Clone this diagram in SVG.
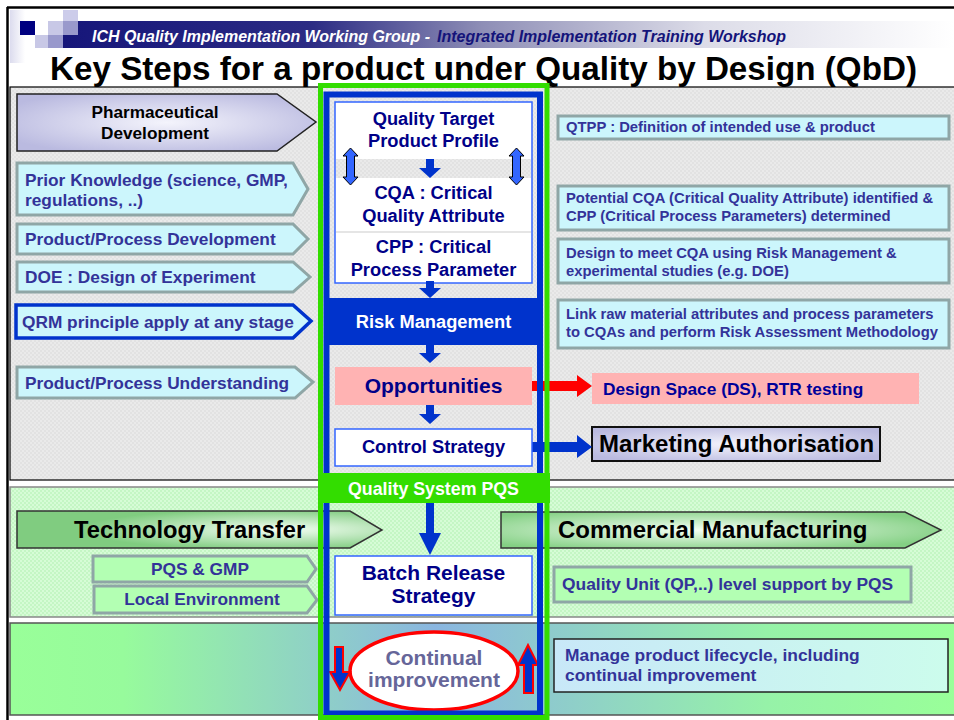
<svg xmlns="http://www.w3.org/2000/svg" width="954" height="720" viewBox="0 0 954 720">
<style>
.b{font-family:"Liberation Sans",Arial,Helvetica,sans-serif;font-weight:bold}
.lt{fill:#333399;font-size:17.3px}
.rt{fill:#333399;font-size:14.8px}
.ct{fill:#000088;font-size:18.3px;text-anchor:middle}
.cy{fill:#ccf6fc;stroke:#8fa6a6;stroke-width:3}
.gr{fill:#b3ffb3;stroke:#8fa6a6;stroke-width:3}
.wb{fill:#ffffff;stroke:#3366ff;stroke-width:1.5}
.dn{fill:#0033cc}
.blk{fill:#000000}
</style>
<defs>
<linearGradient id="hdr" x1="0" y1="0" x2="1" y2="0">
<stop offset="0" stop-color="#16167a"/>
<stop offset="0.28" stop-color="#2c2c84"/>
<stop offset="0.47" stop-color="#8e8eb6"/>
<stop offset="0.72" stop-color="#dcdce8"/>
<stop offset="1" stop-color="#ffffff"/>
</linearGradient>
<linearGradient id="strip" x1="0" y1="0" x2="1" y2="0">
<stop offset="0" stop-color="#dcdcee"/>
<stop offset="1" stop-color="#ffffff"/>
</linearGradient>
<pattern id="grayTex" width="4" height="4" patternUnits="userSpaceOnUse">
<rect width="4" height="4" fill="#e2e2e2"/>
<rect width="2" height="2" fill="#eaeaea"/>
<rect x="2" y="2" width="2" height="2" fill="#eaeaea"/>
</pattern>
<pattern id="greenTex" width="4" height="4" patternUnits="userSpaceOnUse">
<rect width="4" height="4" fill="#c4f6c4"/>
<rect width="2" height="2" fill="#d6fcd6"/>
<rect x="2" y="2" width="2" height="2" fill="#d6fcd6"/>
</pattern>
<linearGradient id="bottomG" x1="0" y1="0" x2="1" y2="0">
<stop offset="0" stop-color="#99ff99"/>
<stop offset="0.12" stop-color="#97fb9c"/>
<stop offset="0.45" stop-color="#8ab6e0"/>
<stop offset="0.8" stop-color="#96f2a8"/>
<stop offset="1" stop-color="#99ff99"/>
</linearGradient>
<radialGradient id="lav" cx="0.5" cy="0.5" r="0.6">
<stop offset="0" stop-color="#f4f4fc"/>
<stop offset="1" stop-color="#babae0"/>
</radialGradient>
<radialGradient id="grn" cx="0.72" cy="0.5" r="0.55">
<stop offset="0" stop-color="#f4fff4"/>
<stop offset="1" stop-color="#80cc80"/>
</radialGradient>
<radialGradient id="grn2" cx="0.45" cy="0.5" r="0.6">
<stop offset="0" stop-color="#f4fff4"/>
<stop offset="1" stop-color="#84d084"/>
</radialGradient>
<linearGradient id="manage" x1="0" y1="0" x2="1" y2="0">
<stop offset="0" stop-color="#c8e8f8"/>
<stop offset="1" stop-color="#ccfcec"/>
</linearGradient>
</defs>

<rect width="954" height="720" fill="#ffffff"/>

<g id="header">
<rect x="10" y="10" width="15" height="53" fill="url(#strip)"/>
<rect x="63" y="21" width="891" height="27" fill="url(#hdr)"/>
<rect x="20" y="21" width="15" height="14" fill="#000080"/>
<rect x="63" y="10" width="15" height="11" fill="#ccccea"/>
<rect x="48" y="21" width="15" height="14" fill="#c8c8e6"/>
<rect x="63" y="21" width="15" height="14" fill="#9999cc"/>
<rect x="35" y="35" width="13" height="13" fill="#c8c8e6"/>
<rect x="48" y="35" width="15" height="13" fill="#9999cc"/>
<text class="b" x="92" y="42" font-size="16" font-style="italic" fill="#ffffff" textLength="338" lengthAdjust="spacingAndGlyphs">ICH Quality Implementation Working Group - </text>
<text class="b" x="437" y="42" font-size="16" font-style="italic" fill="#14147a" textLength="349" lengthAdjust="spacingAndGlyphs">Integrated Implementation Training Workshop</text>
<text class="b" x="50" y="80" font-size="33" fill="#000000" textLength="867" lengthAdjust="spacingAndGlyphs">Key Steps for a product under Quality by Design (QbD)</text>
</g>

<g id="panels">
<rect x="10" y="87" width="946" height="393" fill="url(#grayTex)" stroke="#000000" stroke-width="1.2"/>
<rect x="10" y="487" width="946" height="130" fill="url(#greenTex)" stroke="#888888" stroke-width="1.5"/>
<rect x="10" y="623" width="946" height="92" fill="url(#bottomG)" stroke="#555555" stroke-width="1.5"/>
<line x1="7" y1="7.5" x2="954" y2="7.5" stroke="#000000" stroke-width="2.5"/>
<line x1="7.5" y1="7" x2="7.5" y2="720" stroke="#000000" stroke-width="2.5"/>
</g>

<g id="pharmaceutical-development">
<polygon points="17,94 277,94 316,122 277,151 17,151" fill="url(#lav)" stroke="#222222" stroke-width="1.5"/>
<text class="b blk" x="155" y="118" font-size="17.2" text-anchor="middle">Pharmaceutical</text>
<text class="b blk" x="155" y="139" font-size="17.2" text-anchor="middle">Development</text>
</g>
<g id="prior-knowledge">
<polygon class="cy" points="17,163 293,163 308,189 293,215 17,215"/>
<text class="b lt" x="25" y="186">Prior Knowledge (science, GMP,</text>
<text class="b lt" x="25" y="206">regulations, ..)</text>
</g>
<g id="product-process-development">
<polygon class="cy" points="17,224 293,224 308,239 293,254 17,254"/>
<text class="b lt" x="25" y="245">Product/Process Development</text>
</g>
<g id="doe">
<polygon class="cy" points="17,262 293,262 310,277 293,292 17,292"/>
<text class="b lt" x="25" y="283">DOE : Design of Experiment</text>
</g>
<g id="qrm">
<polygon points="16,305 293,305 311,321 293,338 16,338" fill="#ccf6fc" stroke="#0033cc" stroke-width="3.5"/>
<text class="b lt" x="22" y="328">QRM principle apply at any stage</text>
</g>
<g id="product-process-understanding">
<polygon class="cy" points="17,367 295,367 313,382 295,398 17,398"/>
<text class="b lt" x="25" y="389">Product/Process Understanding</text>
</g>

<g id="qtpp-note">
<rect class="cy" x="558" y="116" width="391" height="23"/>
<text class="b rt" x="566" y="132">QTPP : Definition of intended use &amp; product</text>
</g>
<g id="cqa-note">
<rect class="cy" x="558" y="186" width="391" height="44"/>
<text class="b rt" x="566" y="203">Potential CQA  (Critical Quality Attribute) identified &amp;</text>
<text class="b rt" x="566" y="221">CPP (Critical Process Parameters)  determined</text>
</g>
<g id="design-note">
<rect class="cy" x="558" y="239" width="391" height="44"/>
<text class="b rt" x="566" y="258">Design to meet CQA using Risk Management &amp;</text>
<text class="b rt" x="566" y="276">experimental studies (e.g. DOE)</text>
</g>
<g id="link-note">
<rect class="cy" x="558" y="300" width="391" height="48"/>
<text class="b rt" x="566" y="319">Link raw material attributes and process parameters</text>
<text class="b rt" x="566" y="337">to CQAs and perform Risk Assessment Methodology</text>
</g>

<g id="design-space">
<rect x="592" y="373" width="327" height="31" fill="#ffb3b3"/>
<text class="b" x="603" y="395" font-size="17.3" fill="#000099">Design Space (DS), RTR testing</text>
</g>
<g id="marketing-authorisation">
<rect x="592" y="427" width="288" height="34" fill="url(#lav)" stroke="#111111" stroke-width="2"/>
<text class="b blk" x="599" y="452" font-size="24">Marketing Authorisation</text>
</g>

<g id="technology-transfer">
<polygon points="17,511 350,511 382,530 350,548 17,548" fill="url(#grn)" stroke="#333333" stroke-width="1.5"/>
<text class="b blk" x="74" y="538" font-size="23.7">Technology Transfer</text>
</g>
<g id="commercial-manufacturing">
<polygon points="501,512 905,512 941,530 905,548 501,548" fill="url(#grn2)" stroke="#333333" stroke-width="1.5"/>
<text class="b blk" x="558" y="538" font-size="24">Commercial Manufacturing</text>
</g>
<g id="pqs-gmp">
<polygon class="gr" points="93,556 307,556 316,569 307,582 93,582"/>
<text class="b lt" x="200" y="575" text-anchor="middle">PQS &amp; GMP</text>
</g>
<g id="local-environment">
<polygon class="gr" points="94,586 307,586 317,600 307,613 94,613"/>
<text class="b lt" x="202" y="605" text-anchor="middle">Local Environment</text>
</g>
<g id="quality-unit">
<rect class="gr" x="554" y="567" width="357" height="35"/>
<text class="b" x="562" y="590" font-size="17.4" fill="#333399">Quality Unit (QP,..) level support by PQS</text>
</g>
<g id="manage-lifecycle">
<rect x="554" y="639" width="394" height="53" fill="url(#manage)" stroke="#222222" stroke-width="1.5"/>
<text class="b" x="565" y="661" font-size="17.4" fill="#333399">Manage product lifecycle, including</text>
<text class="b" x="565" y="681" font-size="17.4" fill="#333399">continual improvement</text>
</g>

<g id="connectors">
<path d="M530,381 H577 V375 L592,386 L577,397 V391 H530 Z" fill="#ff0000"/>
<path d="M530,442 H577 V435 L592,447 L577,458 V452 H530 Z" fill="#0033cc"/>
</g>

<g id="qtpp-cqa-cpp">
<rect class="wb" x="335" y="102" width="197" height="181"/>
<rect x="336" y="159" width="195" height="19" fill="url(#grayTex)"/>
<line x1="336" y1="232" x2="531" y2="232" stroke="#dddddd" stroke-width="1.5"/>
<text class="b ct" x="433.5" y="125">Quality Target</text>
<text class="b ct" x="433.5" y="147">Product Profile</text>
<text class="b ct" x="433.5" y="199">CQA : Critical</text>
<text class="b ct" x="433.5" y="222">Quality Attribute</text>
<text class="b ct" x="433.5" y="253">CPP : Critical</text>
<text class="b ct" x="433.5" y="276">Process Parameter</text>
<path d="M350.5,148 l7.5,8 h-3.5 v21 h3.5 l-7.5,8 l-7.5,-8 h3.5 v-21 h-3.5 z" fill="#3366ff" stroke="#000000" stroke-width="1"/>
<path d="M516.5,148 l7.5,8 h-3.5 v21 h3.5 l-7.5,8 l-7.5,-8 h3.5 v-21 h-3.5 z" fill="#3366ff" stroke="#000000" stroke-width="1"/>
</g>
<g id="risk-management">
<rect x="329" y="298" width="209" height="47" fill="#0033cc"/>
<text class="b" x="433.5" y="328" font-size="18.3" fill="#ffffff" text-anchor="middle">Risk Management</text>
</g>
<g id="opportunities">
<rect x="335" y="367" width="197" height="38" fill="#ffb3b3"/>
<text class="b" x="433.5" y="393" font-size="21" fill="#000088" text-anchor="middle">Opportunities</text>
</g>
<g id="control-strategy">
<rect class="wb" x="335" y="429" width="197" height="37"/>
<text class="b ct" x="433.5" y="453" font-size="18.5">Control Strategy</text>
</g>
<g id="batch-release">
<rect class="wb" x="335" y="556" width="197" height="59"/>
<text class="b" x="433.5" y="580" font-size="21" fill="#000088" text-anchor="middle">Batch Release</text>
<text class="b" x="433.5" y="603" font-size="21" fill="#000088" text-anchor="middle">Strategy</text>
</g>
<g id="continual-improvement">
<ellipse cx="434" cy="671" rx="84" ry="39" fill="#ffffff" stroke="#ff0000" stroke-width="3.5"/>
<text class="b" x="434" y="665" font-size="21" fill="#666699" text-anchor="middle">Continual</text>
<text class="b" x="434" y="687" font-size="21" fill="#666699" text-anchor="middle">improvement</text>
<path d="M335,647 h8 v25 h7 l-10,18 l-10,-18 h5 z" fill="#0033cc" stroke="#ff0000" stroke-width="2"/>
<path d="M524,693 v-28 h-6 l10,-20 l10,20 h-5 v28 z" fill="#0033cc" stroke="#ff0000" stroke-width="2"/>
</g>

<g id="pqs-column">
<rect x="326.5" y="94.5" width="213.5" height="619" fill="none" stroke="#0033cc" stroke-width="6"/>
<rect x="320.5" y="85.5" width="226.5" height="632" fill="none" stroke="#33dd00" stroke-width="5"/>
<rect x="318" y="473" width="232" height="30" fill="#33dd00"/>
<text class="b" x="433.5" y="495" font-size="17.8" fill="#ffffff" text-anchor="middle">Quality System PQS</text>
</g>

<g id="column-arrows">
<path class="dn" d="M426,159 h8 v9 h7 l-11,10 l-11,-10 h7 z"/>
<path class="dn" d="M426,281 h8 v7 h7 l-11,10 l-11,-10 h7 z"/>
<path class="dn" d="M426,345 h8 v8 h7 l-11,10 l-11,-10 h7 z"/>
<path class="dn" d="M426,405 h8 v9 h7 l-11,10 l-11,-10 h7 z"/>
<path class="dn" d="M426,503 h8 v30 h7 l-11,22 l-11,-22 h7 z"/>
</g>
</svg>
